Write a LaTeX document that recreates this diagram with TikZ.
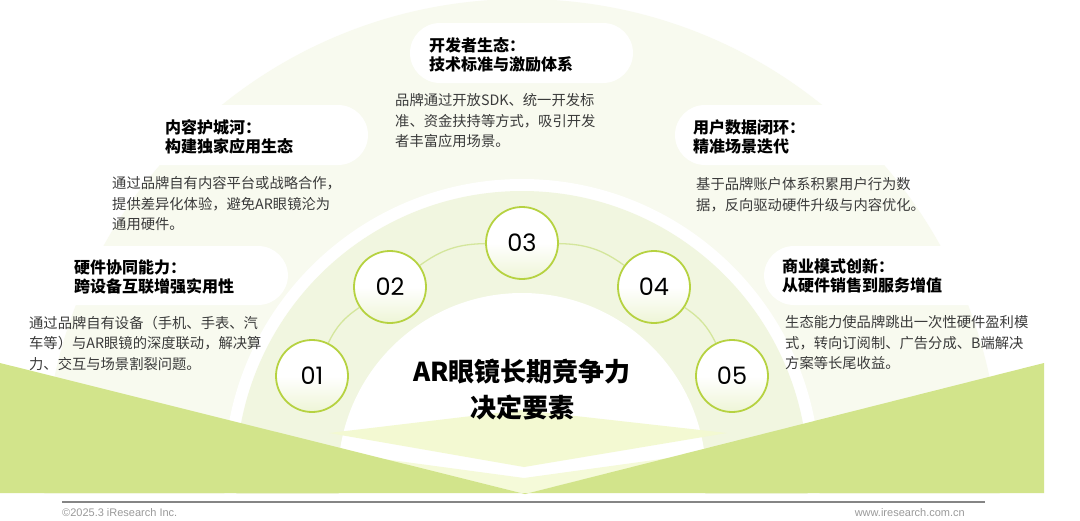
\documentclass[tikz,border=0pt]{standalone}
\usepackage{fontspec}
\setmainfont{Liberation Sans}
\newfontfamily\cjk{Noto Sans CJK SC}
\newfontfamily\numfont{Poppins}
\definecolor{pale}{HTML}{F8FAEF}
\definecolor{band}{HTML}{F1F6E0}
\definecolor{ground}{HTML}{D2E48B}
\definecolor{kitec}{HTML}{F3F9D2}
\definecolor{chevc}{HTML}{F5FAD9}
\definecolor{ring}{HTML}{B6D241}
\definecolor{arcc}{HTML}{D4E69C}
\definecolor{circbot}{HTML}{EEF5D6}
\definecolor{bodygray}{HTML}{3A3A3A}
\definecolor{footgray}{HTML}{9A9A9A}
\definecolor{footline}{HTML}{858585}
\begin{document}
\begin{tikzpicture}[x=1pt,y=-1pt,
  pill/.style={fill=white, rounded corners=30pt},
  num/.style={circle, minimum size=72pt, inner sep=0pt, draw=ring, line width=1.8pt,
    top color=white, bottom color=circbot, middle color=white,
    font=\numfont\fontsize{24}{24}\selectfont},
  ttl/.style={anchor=north west, inner sep=0pt, align=left,
    font=\cjk\bfseries\fontsize{16}{18.5}\selectfont},
  body/.style={anchor=north west, inner sep=0pt, align=left, text=bodygray,
    font=\cjk\fontsize{14.3}{20.5}\selectfont},
  link/.style={draw=arcc, line width=1.3pt},
  foot/.style={inner sep=0pt, text=footgray, font=\fontsize{11}{13}\selectfont}]
\useasboundingbox (0,0) rectangle (1080,520);
\fill[white] (0,0) rectangle (1080,520);
% concentric background
\begin{scope}
  \clip (0,0) rectangle (1080,493);
  \fill[pale] (522,477) circle[radius=478];
  \fill[white] (522,477) circle[radius=298];
  \fill[band] (522,477) circle[radius=286];
  \fill[white] (522,477) circle[radius=184];
\end{scope}
% title pills
\fill[pill] (410,23) rectangle (633,83);
\fill[pill] (40,105) rectangle (368,165);
\fill[pill] (675,105) rectangle (1010,165);
\fill[pill] (-40,246) rectangle (288,305);
\fill[pill] (764,246) rectangle (1100,305);
% ground
\fill[kitec] (329,433) -- (522,410) -- (727,433) -- (524,467) -- cycle;
\fill[chevc] (383,459) -- (524,478) -- (669,458) -- (525,494) -- cycle;
\fill[ground] (0,363) -- (525,494) -- (1044,363) -- (1044,493) -- (0,493) -- cycle;
% numbered circles
\node[num] (c1) at (312,376) {01};
\node[num] (c2) at (390,287) {02};
\node[num] (c3) at (522,243) {03};
\node[num] (c4) at (654,287) {04};
\node[num] (c5) at (732,376) {05};
\draw[link] (c1) to[bend left=15] (c2);
\draw[link] (c2) to[bend left=17.5] (c3);
\draw[link] (c3) to[bend left=17.5] (c4);
\draw[link] (c4) to[bend left=15] (c5);
% centre title
\node[align=center, inner sep=0pt, font=\cjk\bfseries\fontsize{26}{36}\selectfont] (main) at (522,390)
  {AR眼镜长期竞争力\\决定要素};
% texts
\node[ttl] (t3) at (429,37.8) {开发者生态：\\技术标准与激励体系};
\node[body] (b3) at (395,93.6) {品牌通过开放SDK、统一开发标\\准、资金扶持等方式，吸引开发\\者丰富应用场景。};
\node[ttl] (t2) at (165,119.8) {内容护城河：\\构建独家应用生态};
\node[body] (b2) at (112,176.6) {通过品牌自有内容平台或战略合作，\\提供差异化体验，避免AR眼镜沦为\\通用硬件。};
\node[ttl] (t4) at (693,119.8) {用户数据闭环：\\精准场景迭代};
\node[body] (b4) at (696,177.6) {基于品牌账户体系积累用户行为数\\据，反向驱动硬件升级与内容优化。};
\node[ttl] (t1) at (74,259.8) {硬件协同能力：\\跨设备互联增强实用性};
\node[body] (b1) at (29,315.6) {通过品牌自有设备（手机、手表、汽\\车等）与AR眼镜的深度联动，解决算\\力、交互与场景割裂问题。};
\node[ttl] (t5) at (782,258.8) {商业模式创新：\\从硬件销售到服务增值};
\node[body] (b5) at (785,315.6) {生态能力使品牌跳出一次性硬件盈利模\\式，转向订阅制、广告分成、B端解决\\方案等长尾收益。};
% footer
\coordinate (fl) at (62,502);
\coordinate (fr) at (985,502);
\draw[footline, line width=1.2pt] (fl) -- (fr);
\node[foot, anchor=west] (copy) at (62,513) {©2025.3 iResearch Inc.};
\node[foot, anchor=east] (web) at (965,513) {www.iresearch.com.cn};
\end{tikzpicture}
\end{document}
